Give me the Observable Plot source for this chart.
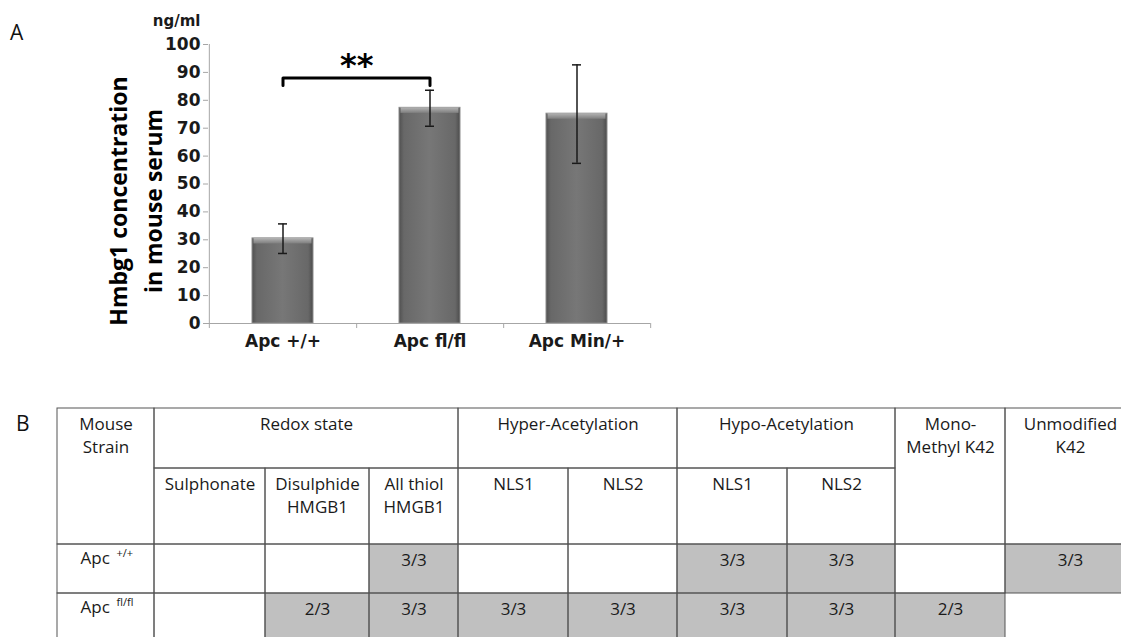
<!DOCTYPE html>
<html><head><meta charset="utf-8">
<script src="https://cdn.jsdelivr.net/npm/d3@7"></script>
<script src="https://cdn.jsdelivr.net/npm/@observablehq/plot@0.6"></script>
<style>
html,body{margin:0;padding:0;background:#fff;width:1121px;height:637px;overflow:hidden;}
#root{position:relative;width:1121px;height:637px;}
.panel{position:absolute;font-family:"Open Sans";font-size:21px;line-height:1;color:#111;}
#chartA{position:absolute;left:0;top:0;}
#tableB{position:absolute;left:0;top:395px;}
g[aria-label="y-axis tick"]{stroke:#a6a6a6;}
</style></head><body>
<div id="root">
<div id="chartA"></div>
<div id="tableB"></div>
<div class="panel" style="left:10px;top:22px">A</div>
<div class="panel" style="left:16px;top:413px">B</div>
</div>
<script>
// ---------- Panel A data ----------
const strains = ["Apc +/+", "Apc fl/fl", "Apc Min/+"];
const meanConc = [30.5, 77.3, 75.2];
const errLow = [25.1, 70.7, 57.4];
const errHigh = [35.7, 83.6, 92.7];
const yTicks = [0, 10, 20, 30, 40, 50, 60, 70, 80, 90, 100];
const unitLabel = "ng/ml";
const yTitle = "Hmbg1 concentration\nin mouse serum";
const sigPair = ["Apc +/+", "Apc fl/fl"];
const sigLevel = 88;
const sigFoot = 85.3;
const sigLabel = "**";

// ---------- Panel B data ----------
const rowHeader = "Mouse\nStrain";
const groups = ["Redox state", "Hyper-Acetylation", "Hypo-Acetylation", "Mono-\nMethyl K42", "Unmodified\nK42"];
const groupSubs = [["Sulphonate", "Disulphide\nHMGB1", "All thiol\nHMGB1"], ["NLS1", "NLS2"], ["NLS1", "NLS2"], [], []];
const rowBase = ["Apc", "Apc"];
const rowSup = ["+/+", "fl/fl"];
const detected = [
  ["", "", "3/3", "", "", "3/3", "3/3", "", "3/3"],
  ["", "2/3", "3/3", "3/3", "3/3", "3/3", "3/3", "2/3", ""]
];

// ---------- Panel A ----------
const W = 1121, HA = 370;
const mL = 208, mR = 471, mT = 44, mB = 47;
const step = (W - mL - mR) / strains.length;
const bars = strains.map((s, i) => ({strain: s, mean: meanConc[i], lo: errLow[i], hi: errHigh[i]}));
const bracket = [
  {x: sigPair[0], y: sigFoot}, {x: sigPair[0], y: sigLevel},
  {x: sigPair[1], y: sigLevel}, {x: sigPair[1], y: sigFoot}
];
const tickCol = "#a6a6a6";

const chartA = Plot.plot({
  width: W, height: HA,
  marginLeft: mL, marginRight: mR, marginTop: mT, marginBottom: mB,
  style: {fontFamily: "DejaVu Sans", fontWeight: "bold", fontSize: "17px", color: "#1a1a1a", background: "white"},
  x: {domain: strains, paddingInner: 0.586, paddingOuter: 0.293, label: null},
  y: {domain: [0, 100], label: null},
  marks: [
    Plot.barY(bars, {x: "strain", y: "mean", fill: "url(#barGrad)", stroke: "#8c8c8c", strokeWidth: 1}),
    Plot.barY(bars, {x: "strain", y1: d => d.mean - 2, y2: "mean", fill: "url(#bevelGrad)", insetLeft: 1.5, insetRight: 1.5}),
    Plot.ruleX([strains[0]], {x: d => d, dx: -step / 2, stroke: tickCol}),
    Plot.ruleY([0], {stroke: tickCol}),
    Plot.ruleX(strains, {x: d => d, dx: step / 2, y1: 0, y2: -1.8, stroke: tickCol}),
    Plot.ruleX([strains[0]], {x: d => d, dx: -step / 2, y1: 0, y2: -1.8, stroke: tickCol}),
    Plot.axisY({ticks: yTicks, tickSize: 5, tickPadding: 3, fontSize: 17, fontWeight: "bold"}),
    Plot.axisX({tickSize: 0, tickPadding: 11, fontSize: 17, fontWeight: "bold"}),
    Plot.ruleX(bars, {x: "strain", y1: "lo", y2: "hi", stroke: "#1a1a1a", strokeWidth: 1.5}),
    Plot.tickY(bars, {x: "strain", y: "lo", inset: 26, stroke: "#1a1a1a", strokeWidth: 1.5}),
    Plot.tickY(bars, {x: "strain", y: "hi", inset: 26, stroke: "#1a1a1a", strokeWidth: 1.5}),
    Plot.line(bracket, {x: "x", y: "y", stroke: "#000", strokeWidth: 3, strokeLinejoin: "round", strokeLinecap: "round"}),
    Plot.text([sigLabel], {x: () => sigPair[0], y: () => sigLevel, text: d => d, dx: step / 2, dy: -12, fontSize: 32, fontWeight: "bold", fill: "#000"}),
    Plot.text([unitLabel], {frameAnchor: "top-left", text: d => d, dx: -8, dy: -29, textAnchor: "end", fontSize: 15, fontWeight: "bold"}),
    Plot.text([yTitle], {frameAnchor: "left", text: d => d, rotate: -90, textAnchor: "middle", lineAnchor: "middle", dx: -75, dy: 17, fontFamily: "Open Sans", fontSize: 23, fontWeight: "bold", lineHeight: 1.5, fill: "#000"})
  ]
});
{
  const defs = d3.select(chartA).insert("defs", ":first-child");
  const g1 = defs.append("linearGradient").attr("id", "barGrad").attr("x1", 0).attr("x2", 1).attr("y1", 0).attr("y2", 0);
  [[0, "#505050"], [0.08, "#686868"], [0.5, "#777777"], [0.92, "#686868"], [1, "#4c4c4c"]]
    .forEach(([o, c]) => g1.append("stop").attr("offset", o).attr("stop-color", c));
  const g2 = defs.append("linearGradient").attr("id", "bevelGrad").attr("x1", 0).attr("x2", 0).attr("y1", 0).attr("y2", 1);
  [[0, "#b4b4b4"], [1, "#7e7e7e"]]
    .forEach(([o, c]) => g2.append("stop").attr("offset", o).attr("stop-color", c));
}
document.getElementById("chartA").appendChild(chartA);

// ---------- Panel B ----------
const colW = [97, 111, 104, 89, 110, 109, 110, 108, 110, 130];
const rowH = [60, 76, 49, 49];
const colEdge = [0]; colW.forEach(w => colEdge.push(colEdge[colEdge.length - 1] + w));
const rowEdge = [0]; rowH.forEach(h => rowEdge.push(rowEdge[rowEdge.length - 1] + h));
const totalW = colEdge[colEdge.length - 1], totalH = rowEdge[rowEdge.length - 1];

const cells = [];
cells.push({x1: colEdge[0], x2: colEdge[1], y1: rowEdge[0], y2: rowEdge[2], text: rowHeader, fill: "white", border: true});
let leaf = 1;
groups.forEach((gName, gi) => {
  const subs = groupSubs[gi];
  const span = Math.max(1, subs.length);
  if (subs.length) {
    cells.push({x1: colEdge[leaf], x2: colEdge[leaf + span], y1: rowEdge[0], y2: rowEdge[1], text: gName, fill: "white", border: true});
    subs.forEach((s, si) => cells.push({x1: colEdge[leaf + si], x2: colEdge[leaf + si + 1], y1: rowEdge[1], y2: rowEdge[2], text: s, fill: "white", border: true}));
  } else {
    cells.push({x1: colEdge[leaf], x2: colEdge[leaf + 1], y1: rowEdge[0], y2: rowEdge[2], text: gName, fill: "white", border: true});
  }
  leaf += span;
});
const nLeaf = leaf - 1;
detected.forEach((row, r) => {
  cells.push({x1: colEdge[0], x2: colEdge[1], y1: rowEdge[2 + r], y2: rowEdge[3 + r], text: "", fill: "white", border: true});
  row.forEach((v, j) => {
    const lastEmpty = r === detected.length - 1 && j === nLeaf - 1 && !v;
    cells.push({x1: colEdge[j + 1], x2: colEdge[j + 2], y1: rowEdge[2 + r], y2: rowEdge[3 + r], text: v, fill: v ? "#c0c0c0" : "white", border: !lastEmpty});
  });
});
const rowLabels = rowBase.map((b, r) => ({base: b, sup: rowSup[r], x: colEdge[0], y: rowEdge[2 + r]}));

const tableB = Plot.plot({
  width: W, height: 242, margin: 0,
  x: {type: "linear", domain: [0, totalW], range: [57, 57 + totalW], axis: null},
  y: {type: "linear", domain: [0, totalH], range: [13, 13 + totalH], axis: null},
  color: {type: "identity"},
  style: {fontFamily: "Open Sans", fontSize: "17px", color: "#1a1a1a", background: "white"},
  marks: [
    Plot.rect(cells, {x1: "x1", x2: "x2", y1: "y1", y2: "y2", fill: "fill"}),
    Plot.rect(cells.filter(d => d.border), {x1: "x1", x2: "x2", y1: "y1", y2: "y2", fill: "none", stroke: "#555", strokeWidth: 1}),
    Plot.text(cells.filter(d => d.text), {x: d => (d.x1 + d.x2) / 2, y: "y1", text: "text", lineAnchor: "top", dy: 5, lineHeight: 1.35, fontSize: 17, fill: "#1a1a1a"}),
    Plot.text(rowLabels, {x: "x", y: "y", text: "base", textAnchor: "start", lineAnchor: "top", dx: 23, dy: 7, fontSize: 17, fill: "#1a1a1a"}),
    Plot.text(rowLabels, {x: "x", y: "y", text: "sup", textAnchor: "start", lineAnchor: "top", dx: 59, dy: 5, fontSize: 11, fill: "#1a1a1a"})
  ]
});
document.getElementById("tableB").appendChild(tableB);
</script>
</body></html>
